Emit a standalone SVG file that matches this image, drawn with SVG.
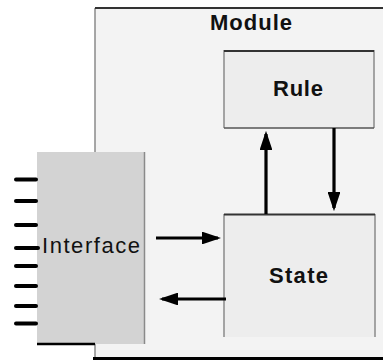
<svg xmlns="http://www.w3.org/2000/svg" width="383" height="360" viewBox="0 0 383 360">
<style>
text{font-family:"Liberation Sans",Arial,sans-serif;font-size:22px;fill:#111}
.b{font-weight:bold}
.edge{stroke:#000;stroke-width:3.2;fill:none}
.tick{stroke:#000;stroke-width:4;stroke-linecap:round}
.box{fill:#ededed}
.gray{stroke:#8a8a8a;stroke-width:1.5}
.dark{stroke:#333;stroke-width:2}
</style>
<defs>
<marker id="ah" markerWidth="6" markerHeight="4" refX="5" refY="2" orient="auto" markerUnits="strokeWidth"><path d="M0,0 L6,2 L0,4 z" fill="#000"/></marker>
</defs>
<rect width="383" height="360" fill="#fff"/>
<g id="module">
<rect x="95" y="8" width="288" height="350" fill="#f3f3f3"/>
<line x1="95" y1="8" x2="95" y2="358" class="gray"/>
<line x1="95" y1="8" x2="383" y2="8" class="dark"/>
<line x1="93" y1="358.5" x2="383" y2="358.5" stroke="#000" stroke-width="3"/>
<text class="b" x="210" y="30" textLength="82" lengthAdjust="spacing">Module</text>
</g>
<g id="interface">
<rect x="37" y="152" width="107.5" height="192" fill="#d3d3d3"/>
<line x1="144.5" y1="152" x2="144.5" y2="344" class="gray"/>
<line x1="37" y1="344" x2="95" y2="344" stroke="#000" stroke-width="2.5"/>
<line x1="16" y1="179.5" x2="36" y2="179.5" class="tick"/>
<line x1="16" y1="201" x2="36" y2="201" class="tick"/>
<line x1="16" y1="225" x2="36" y2="225" class="tick"/>
<line x1="16" y1="248" x2="38" y2="248" class="tick"/>
<line x1="16" y1="266" x2="36" y2="266" class="tick"/>
<line x1="16" y1="286" x2="36" y2="286" class="tick"/>
<line x1="16" y1="306" x2="36" y2="306" class="tick"/>
<line x1="16" y1="323.5" x2="36" y2="323.5" class="tick"/>
<text x="42" y="253" textLength="98" lengthAdjust="spacing">Interface</text>
</g>
<g id="rule">
<rect x="224" y="50" width="150" height="78" class="box"/>
<line x1="224" y1="50" x2="224" y2="128" class="gray"/>
<line x1="374" y1="50" x2="374" y2="128" class="gray"/>
<line x1="224" y1="51" x2="374" y2="51" class="dark"/>
<line x1="224" y1="128" x2="374" y2="128" stroke="#555" stroke-width="1.5"/>
<text class="b" x="273" y="96" textLength="50" lengthAdjust="spacing">Rule</text>
</g>
<g id="state">
<rect x="224" y="214" width="151" height="123" class="box"/>
<line x1="224" y1="214" x2="224" y2="337" class="gray"/>
<line x1="375" y1="214" x2="375" y2="337" class="gray"/>
<line x1="224" y1="214.5" x2="375" y2="214.5" class="dark"/>
<text class="b" x="269" y="283" textLength="59" lengthAdjust="spacing">State</text>
</g>
<g id="connectors">
<line x1="266" y1="214" x2="266" y2="134" class="edge" marker-end="url(#ah)"/>
<line x1="334" y1="128" x2="334" y2="208" class="edge" marker-end="url(#ah)"/>
<line x1="156" y1="238" x2="218" y2="238" class="edge" marker-end="url(#ah)"/>
<line x1="226" y1="299" x2="162" y2="299" class="edge" marker-end="url(#ah)"/>
</g>
</svg>
